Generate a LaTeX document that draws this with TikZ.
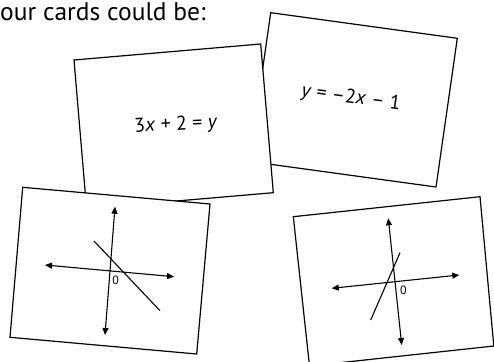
\documentclass[tikz,border=0pt]{standalone}
\usepackage{fontspec}
\setmainfont{PT Sans}
\usetikzlibrary{arrows.meta}
\begin{document}
\begin{tikzpicture}[x=1pt,y=-1pt,
  card/.style={draw=black,fill=white,line width=1.2pt,line join=miter},
  axis/.style={line width=1.1pt,{Triangle[length=7pt,width=6pt]}-{Triangle[length=7pt,width=6pt]}},
  graphline/.style={line width=1.1pt},
  eq/.style={font=\fontsize{20}{24}\selectfont,inner sep=0pt},
  zero/.style={font=\fontsize{12}{14}\selectfont,inner sep=0pt}]
\useasboundingbox (0,0) rectangle (494,361);
\clip (0,0) rectangle (494,361);
\fill[white] (0,0) rectangle (494,361);
% title
\node[anchor=base west,inner sep=0pt,font=\fontsize{25.5}{30}\selectfont] (title) at (0,20.7) {our cards could be:};
% card B
\draw[card] (270.7,12.7) -- (457.3,38.3) -- (436,187) -- (249.4,161.4) -- cycle;
\node[eq,rotate=-7.8] (eqB) at (351,98) {\textit{y} = –2\textit{x} – 1};
% card A
\draw[card] (74,60) -- (260.7,44) -- (273.3,192.7) -- (86.6,208.7) -- cycle;
\node[eq,rotate=3] (eqA) at (176,125) {3\textit{x} + 2 = \textit{y}};
% card C
\draw[card] (22.7,187.3) -- (210,204) -- (196.7,354) -- (10,337.3) -- cycle;
\coordinate (c1t) at (115,206.7);
\coordinate (c1b) at (105,335);
\coordinate (c1l) at (45,265);
\coordinate (c1r) at (174,276.7);
\coordinate (c1a) at (94,241);
\coordinate (c1c) at (160,310.7);
\draw[axis] (c1t) -- (c1b);
\draw[axis] (c1l) -- (c1r);
\draw[graphline] (c1a) -- (c1c);
\node[zero] (z1) at (115.7,280.7) {0};
% card D
\draw[card] (293.3,216.7) -- (480,196.7) -- (493.8,346) -- (309.5,366) -- cycle;
\coordinate (c2t) at (388.3,218.3);
\coordinate (c2b) at (401.7,345);
\coordinate (c2l) at (331.7,288.3);
\coordinate (c2r) at (459.3,275);
\coordinate (c2a) at (400,252.7);
\coordinate (c2c) at (370.7,320);
\draw[axis] (c2t) -- (c2b);
\draw[axis] (c2l) -- (c2r);
\draw[graphline] (c2a) -- (c2c);
\node[zero] (z2) at (403.3,290) {0};
\end{tikzpicture}
\end{document}
